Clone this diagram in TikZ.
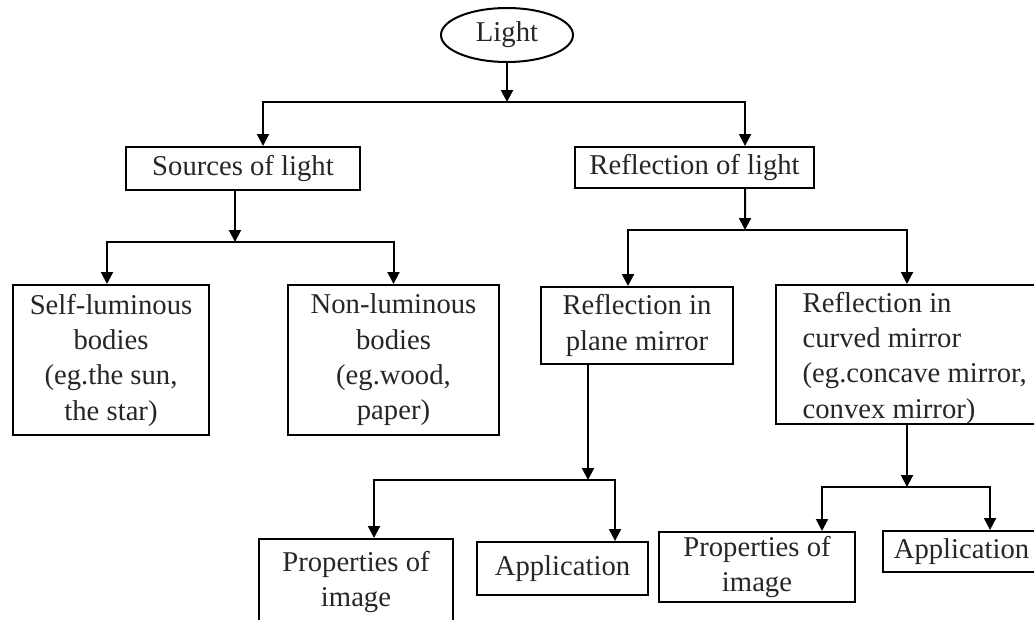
\documentclass[tikz,border=0pt]{standalone}
\usepackage{fontspec}
\setmainfont{Liberation Serif}
\usetikzlibrary{arrows.meta,shapes.geometric}
\tikzset{
  boxbase/.style={draw, line width=1.5pt, rectangle, inner sep=0pt,
    font=\fontsize{21.5pt}{26.5pt}\selectfont, text=black!85},
  box/.style={boxbase, align=center},
  oval/.style={draw, line width=1.5pt, ellipse, inner sep=0pt,
    font=\fontsize{21.5pt}{26.5pt}\selectfont, text=black!85},
  arr/.style={line width=1.5pt, -{Triangle[width=9pt,length=9pt]}},
}
\begin{document}
\begin{tikzpicture}[x=0.75pt,y=-0.75pt]
\useasboundingbox (0,0) rectangle (1034,619);
\clip (0,0) rectangle (1034,619);
\fill[white] (0,0) rectangle (1034,619);
% nodes
\node[oval, minimum width=99pt, minimum height=40.5pt] (light) at (507,35) {Light};
\node[box, minimum width=175.5pt, minimum height=32.25pt] (src) at (243,168.5) {Sources of light};
\node[box, minimum width=179.25pt, minimum height=30.75pt] (refl) at (694.5,167.5) {Reflection of light};
\node[box, minimum width=147pt, minimum height=112.5pt] (self) at (111,360) {Self-luminous\\bodies\\(eg.the sun,\\the star)};
\node[box, minimum width=158.25pt, minimum height=112.5pt] (non) at (393.5,360) {Non-luminous\\bodies\\(eg.wood,\\paper)};
\node[box, minimum width=144pt, minimum height=57.75pt] (plane) at (637,325.5) {Reflection in\\plane mirror};
\node[boxbase, anchor=north west, minimum height=104.25pt, inner xsep=20pt, text height=59pt, text depth=43pt] (curved) at (775,284) {\parbox{190pt}{\raggedright Reflection in\\curved mirror\\(eg.concave mirror,\\convex mirror)}};
\node[box, anchor=north, minimum width=145.5pt, inner ysep=9pt] (propsL) at (356,538) {Properties of\\image};
\node[box, minimum width=128.25pt, minimum height=39.75pt] (appL) at (562.5,568.5) {Application};
\node[box, minimum width=147pt, minimum height=52.5pt] (propsR) at (757,567) {Properties of\\image};
\node[box, minimum width=117.75pt, minimum height=30.75pt] (appR) at (961.5,551.5) {Application};
% junctions
\coordinate (j1) at (507,102);
\coordinate (j2) at (235,242);
\coordinate (j3) at (745,230);
\coordinate (j4) at (588,480);
\coordinate (j5) at (907,487);
% connectors
\draw[arr] (light.south) -- (j1);
\draw[arr] (j1) -| ([xshift=15pt]src.north);
\draw[arr] (j1) -| ([xshift=37.9pt]refl.north);
\draw[arr] ([xshift=-6pt]src.south) -- (j2);
\draw[arr] (j2) -| ([xshift=-3pt]self.north);
\draw[arr] (j2) -| (non.north);
\draw[arr] ([xshift=37.9pt]refl.south) -- (j3);
\draw[arr] (j3) -| (curved.north -| j5);
\draw[arr] (curved.south -| j5) -- (j5);
\draw[arr] (j3) -| ([xshift=-6.75pt]plane.north);
\draw[arr] ([xshift=-36.75pt]plane.south) -- (j4);
\draw[arr] (j4) -| ([xshift=13.5pt]propsL.north);
\draw[arr] (j4) -| ([xshift=39.4pt]appL.north);
\draw[arr] (j5) -| ([xshift=48.75pt]propsR.north);
\draw[arr] (j5) -| ([xshift=21.4pt]appR.north);
\end{tikzpicture}
\end{document}
